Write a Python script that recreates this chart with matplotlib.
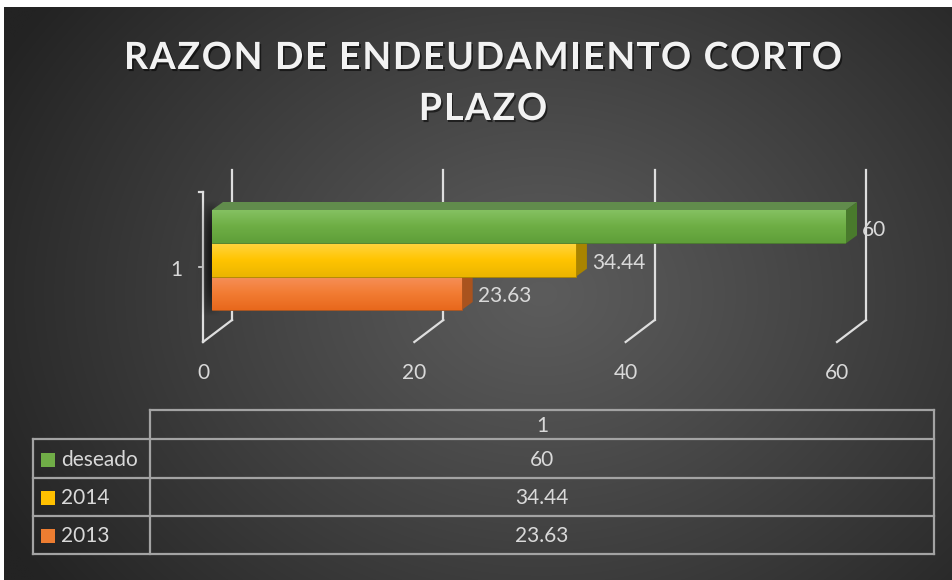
import numpy as np
import matplotlib
matplotlib.use('Agg')
import matplotlib.pyplot as plt
import matplotlib.patheffects as pe
from matplotlib.colors import LinearSegmentedColormap
from matplotlib.font_manager import FontProperties
from matplotlib.patches import Polygon, Rectangle

# data
series = ['deseado', '2014', '2013']
values = [60, 34.44, 23.63]
category = '1'
xticks = [0, 20, 40, 60]
title_lines = ['RAZON DE ENDEUDAMIENTO CORTO', 'PLAZO']

# colours per series: light front, dark front, top face, side face
front_top = ['#86c263', '#ffd43f', '#f6905a']
front_mid = ['#6eae45', '#ffc400', '#f27c33']
front_bot = ['#5f9f39', '#ebb500', '#e8681c']
key_col = ['#70ad47', '#ffc000', '#ed7d31']
top_face = ['#618c4c', '#c99a10', '#b9632c']
side_face = ['#497a2c', '#a98400', '#a9531e']

W, H = 953, 580
plt.rcParams['font.family'] = ['Lato', 'DejaVu Sans']
txt_col = '#d9d9d9'

fig = plt.figure(figsize=(W / 100, H / 100), dpi=100)
fig.patch.set_facecolor('white')

# background panel in pixel coordinates
bg = fig.add_axes([0, 0, 1, 1])
bg.axis('off')
yy, xx = np.mgrid[0:H, 0:W]
r = np.sqrt((xx - 540) ** 2 + ((yy - 290) * 1.25) ** 2) / 620
r = np.clip(r, 0, 1)
inner, outer = 0x5c / 255, 0x23 / 255
g = inner + (outer - inner) * r ** 1.1
img = np.dstack([g, g, g])
bg.imshow(img, extent=[4, W - 1, H, 7], aspect='auto', zorder=0)
bg.set_xlim(0, W)
bg.set_ylim(H, 0)

# chart axes: bar front plane
ax = fig.add_axes([212 / W, (H - 335) / H, 634 / W, 150 / H])
ax.axis('off')
xmin, xmax, ymin, ymax = 0, 60, -0.75, 3.75
ux = 634 / (xmax - xmin)   # px per unit
uy = 150 / (ymax - ymin)
back = (20 / ux, 15 / uy)
front = (-9 / ux, -7 / uy)
depth = (11 / ux, 8 / uy)
grid_col = '#dedede'

for t in xticks:
    ax.plot([t + back[0]] * 2, [ymin + back[1], ymax + back[1]], color=grid_col,
            lw=1.6, clip_on=False, zorder=1)
    ax.plot([t + back[0], t + front[0]], [ymin + back[1], ymin + front[1]],
            color=grid_col, lw=1.6, clip_on=False, zorder=1)
    ax.text(t + front[0], ymin - 38 / uy, str(t), ha='center', va='center',
            color=txt_col, fontsize=15)
# left wall front edge
ax.plot([xmin + front[0]] * 2, [ymin + front[1], ymax + front[1]], color=grid_col,
        lw=1.6, clip_on=False, zorder=1)
ax.plot([xmin + front[0] - 4 / ux, xmin + front[0]], [ymax + front[1]] * 2,
        color=grid_col, lw=1.6, clip_on=False, zorder=1)
ax.plot([xmin + front[0] - 4 / ux, xmin + front[0]], [1.5 + front[1]] * 2,
        color=grid_col, lw=1.2, clip_on=False, zorder=1)
ax.text(xmin - 36 / ux, 1.5 + front[1] - 3 / uy, category, ha='center', va='center',
        color=txt_col, fontsize=15)

# soft shadow behind bars on the wall
sh = np.zeros((60, 80, 4))
sx = np.linspace(-1, 1, 80)
sy = np.linspace(-1, 1, 60)
sh[..., 3] = 0.6 * np.exp(-((sx[None, :] - 0.05) / 0.4) ** 2) * np.clip(1.0 - np.abs(sy[:, None]) ** 3, 0, 1)
ax.imshow(sh, extent=[-1.8, 1.4, -0.2, 3.3], aspect='auto', zorder=1.5,
          interpolation='bilinear', clip_on=False)

# 3D bars
ypos = [2, 1, 0]
grad = np.linspace(0, 1, 64)[:, None]
for i in [2, 1, 0]:
    v, y0 = values[i], ypos[i]
    z = 3 + (2 - i)
    y1 = y0 + 1
    side = Polygon([(v, y0), (v, y1), (v + depth[0], y1 + depth[1]),
                    (v + depth[0], y0 + depth[1])], closed=True,
                   facecolor=side_face[i], edgecolor='none', zorder=z, clip_on=False)
    top = Polygon([(0, y1), (v, y1), (v + depth[0], y1 + depth[1]),
                   (depth[0], y1 + depth[1])], closed=True,
                  facecolor=top_face[i], edgecolor='none', zorder=z, clip_on=False)
    ax.add_patch(side)
    ax.add_patch(top)
    bar = ax.barh(y0, v, height=1, align='edge', color=front_mid[i],
                  edgecolor=side_face[i], lw=0.6, zorder=z + 0.1)[0]
    cm = LinearSegmentedColormap.from_list('f', [front_top[i], front_mid[i], front_bot[i]])
    im = ax.imshow(grad, cmap=cm, extent=[0, v, y0, y1], aspect='auto',
                   zorder=z + 0.2, origin='upper')
    im.set_clip_path(bar)
    ax.text(v + 16 / ux, y0 + 0.5 - 3 / uy, f'{v:g}', ha='left', va='center',
            color=txt_col, fontsize=15, zorder=10)

ax.set_xlim(xmin, xmax)
ax.set_ylim(ymin, ymax)

# title with letter spacing
renderer = fig.canvas.get_renderer()
fp = FontProperties(family='Lato', weight='bold', size=27)
def char_widths(s):
    return [renderer.get_text_width_height_descent(c, fp, ismath=False)[0] for c in s]
w0 = char_widths(title_lines[0])
spacing = (718 - sum(w0)) / (len(title_lines[0]) - 1)
shadow = [pe.SimplePatchShadow(offset=(1.2, -1.5), shadow_rgbFace='black', alpha=0.55),
          pe.Normal()]
for line, ybase in zip(title_lines, [69, 120]):
    ws = char_widths(line)
    total = sum(ws) + spacing * (len(line) - 1)
    x = 483 - total / 2
    for c, w in zip(line, ws):
        bg.text(x, ybase, c, fontproperties=fp, color='#f2f2f2', ha='left',
                va='baseline', path_effects=shadow, zorder=5)
        x += w + spacing

# data table
tcol = '#a3a3a3'
rows_y = [410, 439, 478, 516, 554]
xl, xd, xr = 33, 150, 934
bg.plot([xd, xr], [rows_y[0]] * 2, color=tcol, lw=1.6, zorder=3)
for yv in rows_y[1:]:
    bg.plot([xl, xr], [yv, yv], color=tcol, lw=1.6, zorder=3)
bg.plot([xl, xl], [rows_y[1], rows_y[-1]], color=tcol, lw=1.6, zorder=3)
bg.plot([xd, xd], [rows_y[0], rows_y[-1]], color=tcol, lw=1.6, zorder=3)
bg.plot([xr, xr], [rows_y[0], rows_y[-1]], color=tcol, lw=1.6, zorder=3)
bg.text((xd + xr) / 2, (rows_y[0] + rows_y[1]) / 2 + 1, category, ha='center',
        va='center', color=txt_col, fontsize=15, zorder=4)
for i, name in enumerate(series):
    yc = (rows_y[i + 1] + rows_y[i + 2]) / 2 + 1
    bg.add_patch(Rectangle((41, yc - 7), 14, 14, facecolor=key_col[i],
                           edgecolor='none', zorder=4))
    bg.text(61, yc, name, ha='left', va='center', color=txt_col, fontsize=15, zorder=4)
    bg.text((xd + xr) / 2, yc, f'{values[i]:g}', ha='center', va='center',
            color=txt_col, fontsize=15, zorder=4)

fig.savefig('out.png', dpi=100)
